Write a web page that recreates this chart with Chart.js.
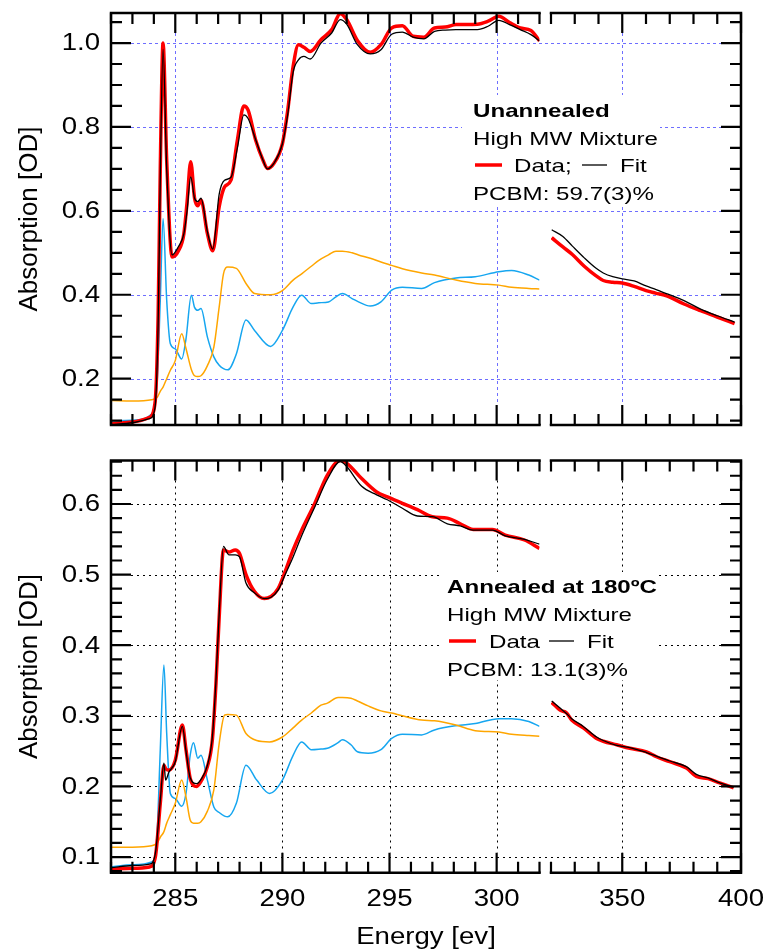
<!DOCTYPE html>
<html>
<head>
<meta charset="utf-8">
<script src="https://cdn.jsdelivr.net/npm/chart.js@4.4.1/dist/chart.umd.min.js"></script>
<style>
html, body { margin: 0; padding: 0; background: #fff; }
#wrap { position: relative; width: 765px; height: 952px; }
#wrap canvas { position: absolute; left: 0; top: 0; }
</style>
</head>
<body>
<div id="wrap">
  <canvas id="topLo" width="765" height="952"></canvas>
  <canvas id="topHi" width="765" height="952"></canvas>
  <canvas id="botLo" width="765" height="952"></canvas>
  <canvas id="botHi" width="765" height="952"></canvas>
</div>
<script>
// ---- Unannealed (top panel), 282-302 eV ----
var unE = [282, 283, 283.8, 284.05, 284.2, 284.3, 284.43, 284.6, 284.85, 285.15, 285.4, 285.55, 285.72, 285.9, 286.05, 286.2, 286.5, 286.75, 287.05, 287.3, 287.6, 287.9, 288.2, 288.4, 288.75, 289.1, 289.3, 289.6, 290.0, 290.25, 290.5, 290.75, 291.0, 291.3, 291.8, 292.3, 292.7, 293.0, 293.5, 294.1, 294.6, 295.1, 295.6, 296.1, 296.6, 297.1, 297.6, 298.1, 299.1, 299.6, 300.1, 300.6, 301.1, 301.6, 302];
var unData = [0.092, 0.097, 0.108, 0.14, 0.35, 0.70, 1.0, 0.72, 0.49, 0.505, 0.545, 0.62, 0.717, 0.63, 0.612, 0.626, 0.546, 0.505, 0.61, 0.657, 0.673, 0.769, 0.85, 0.84, 0.769, 0.72, 0.701, 0.713, 0.76, 0.84, 0.944, 0.996, 0.99, 0.98, 1.008, 1.032, 1.07, 1.056, 1.006, 0.978, 0.996, 1.036, 1.041, 1.016, 1.014, 1.036, 1.038, 1.044, 1.045, 1.052, 1.064, 1.049, 1.036, 1.03, 1.005];
var unFit = [0.09, 0.095, 0.105, 0.13, 0.33, 0.68, 0.985, 0.70, 0.495, 0.515, 0.545, 0.6, 0.681, 0.63, 0.622, 0.63, 0.55, 0.509, 0.64, 0.673, 0.68, 0.75, 0.829, 0.82, 0.77, 0.72, 0.70, 0.713, 0.76, 0.83, 0.93, 0.96, 0.968, 0.962, 1.0, 1.024, 1.056, 1.045, 0.996, 0.974, 0.984, 1.021, 1.026, 1.014, 1.01, 1.028, 1.031, 1.032, 1.032, 1.04, 1.054, 1.044, 1.032, 1.02, 1.005];
var unCompE = [282, 283, 283.9, 284.15, 284.3, 284.43, 284.6, 284.77, 285.0, 285.3, 285.5, 285.75, 285.9, 286.05, 286.2, 286.5, 286.8, 287.05, 287.25, 287.45, 287.85, 288.3, 288.7, 289.45, 290.0, 290.5, 290.9, 291.35, 291.7, 292.15, 292.5, 292.8, 293.25, 293.55, 294.1, 294.6, 295.1, 295.6, 296.5, 297.1, 298.1, 299.0, 300.1, 300.7, 301.5, 302];
var unPolymer = [0.148, 0.147, 0.15, 0.155, 0.17, 0.18, 0.2, 0.22, 0.243, 0.307, 0.272, 0.222, 0.207, 0.205, 0.207, 0.231, 0.275, 0.371, 0.45, 0.466, 0.463, 0.427, 0.403, 0.40, 0.41, 0.435, 0.45, 0.468, 0.482, 0.495, 0.504, 0.504, 0.5, 0.495, 0.487, 0.478, 0.47, 0.462, 0.452, 0.447, 0.435, 0.427, 0.423, 0.418, 0.415, 0.414];
var unPcbm = [0.10, 0.101, 0.116, 0.188, 0.387, 0.582, 0.387, 0.283, 0.271, 0.247, 0.295, 0.399, 0.37, 0.363, 0.367, 0.299, 0.252, 0.232, 0.224, 0.221, 0.259, 0.34, 0.315, 0.277, 0.315, 0.371, 0.399, 0.379, 0.381, 0.383, 0.395, 0.403, 0.391, 0.383, 0.373, 0.383, 0.411, 0.418, 0.415, 0.429, 0.44, 0.443, 0.455, 0.458, 0.447, 0.435];
// ---- Unannealed, 320-400 eV ----
var unHiE = [320.3, 325, 329, 334, 339, 342, 346, 350, 355, 360, 364, 369, 376, 383, 390, 397.3];
var unHiData = [0.536, 0.514, 0.496, 0.468, 0.445, 0.434, 0.43, 0.428, 0.42, 0.41, 0.404, 0.397, 0.378, 0.362, 0.347, 0.331];
var unHiFit = [0.555, 0.539, 0.516, 0.488, 0.463, 0.452, 0.443, 0.438, 0.433, 0.421, 0.413, 0.402, 0.386, 0.366, 0.35, 0.335];

// ---- Annealed at 180 C (bottom panel), 282-302 eV ----
var anE = [282, 283, 283.8, 284.07, 284.3, 284.47, 284.55, 284.7, 285.0, 285.33, 285.5, 285.7, 286.0, 286.2, 286.5, 286.73, 286.9, 287.05, 287.25, 287.5, 287.8, 288.0, 288.3, 288.7, 289.15, 289.47, 289.8, 290.1, 290.5, 290.9, 291.5, 292.1, 292.7, 293.0, 293.7, 294.4, 294.9, 295.6, 296.3, 297.0, 297.7, 298.3, 298.9, 299.8, 300.4, 301.3, 302];
var anData = [0.083, 0.084, 0.086, 0.10, 0.176, 0.23, 0.225, 0.223, 0.237, 0.287, 0.252, 0.211, 0.2, 0.207, 0.228, 0.266, 0.346, 0.44, 0.535, 0.532, 0.535, 0.53, 0.5, 0.476, 0.466, 0.469, 0.48, 0.502, 0.535, 0.563, 0.6, 0.641, 0.662, 0.658, 0.636, 0.617, 0.61, 0.601, 0.592, 0.582, 0.58, 0.572, 0.564, 0.564, 0.556, 0.549, 0.537];
var anFit = [0.085, 0.088, 0.09, 0.105, 0.18, 0.233, 0.209, 0.22, 0.235, 0.285, 0.25, 0.212, 0.204, 0.21, 0.23, 0.27, 0.35, 0.445, 0.54, 0.528, 0.528, 0.525, 0.488, 0.474, 0.466, 0.468, 0.478, 0.498, 0.525, 0.555, 0.595, 0.635, 0.66, 0.653, 0.625, 0.613, 0.606, 0.594, 0.583, 0.582, 0.572, 0.569, 0.563, 0.563, 0.555, 0.55, 0.543];
var anCompE = [282, 283, 283.9, 284.15, 284.3, 284.47, 284.6, 284.77, 285.0, 285.3, 285.5, 285.7, 285.85, 286.05, 286.2, 286.5, 286.8, 287.05, 287.3, 287.45, 287.85, 288.3, 288.8, 289.4, 290.0, 290.5, 290.9, 291.35, 291.8, 292.1, 292.6, 292.8, 293.2, 293.5, 294.0, 294.6, 295.1, 295.6, 296.5, 297.1, 298.1, 299.0, 300.1, 300.7, 301.5, 302];
var anPolymer = [0.114, 0.114, 0.116, 0.12, 0.128, 0.136, 0.148, 0.16, 0.176, 0.209, 0.185, 0.152, 0.148, 0.148, 0.15, 0.165, 0.195, 0.261, 0.301, 0.302, 0.301, 0.275, 0.265, 0.263, 0.27, 0.283, 0.294, 0.304, 0.315, 0.318, 0.326, 0.326, 0.325, 0.321, 0.314, 0.307, 0.304, 0.3, 0.294, 0.293, 0.287, 0.279, 0.277, 0.274, 0.272, 0.271];
var anPcbm = [0.086, 0.089, 0.093, 0.133, 0.252, 0.372, 0.275, 0.19, 0.183, 0.172, 0.19, 0.245, 0.262, 0.24, 0.244, 0.209, 0.171, 0.163, 0.158, 0.157, 0.176, 0.23, 0.209, 0.19, 0.209, 0.244, 0.263, 0.252, 0.253, 0.254, 0.262, 0.266, 0.259, 0.249, 0.247, 0.252, 0.268, 0.274, 0.273, 0.28, 0.286, 0.289, 0.296, 0.296, 0.292, 0.285];
// ---- Annealed, 320-400 eV ----
var anHiE = [320.3, 323.8, 326.6, 328.7, 333.6, 339.2, 342, 347.6, 353.2, 360.2, 364.4, 370, 377, 381.2, 386.1, 391, 396.9];
var anHiData = [0.319, 0.308, 0.304, 0.294, 0.283, 0.268, 0.264, 0.259, 0.254, 0.249, 0.242, 0.235, 0.226, 0.214, 0.211, 0.205, 0.198];
var anHiFit = [0.321, 0.311, 0.303, 0.296, 0.285, 0.27, 0.265, 0.258, 0.255, 0.248, 0.243, 0.236, 0.228, 0.217, 0.212, 0.205, 0.199];

var FONT = '"Liberation Sans", Arial, sans-serif';

function pts(xs, ys) {
  return xs.map(function (x, i) { return { x: x, y: ys[i] }; });
}
function steps(min, max, step) {
  var out = [];
  for (var v = Math.ceil(min / step - 1e-6) * step; v <= max + 1e-6; v += step) out.push(+v.toFixed(6));
  return out;
}
function isMajor(v, major) {
  return Math.abs(v / major - Math.round(v / major)) < 1e-6;
}
// the source figure is stretched sideways, so text gets a horizontal scale
function wideText(ctx, text, x, y, font, align, sx) {
  ctx.save();
  ctx.font = font;
  ctx.translate(x, y);
  ctx.scale(sx || 1.2, 1);
  ctx.textAlign = align || 'left';
  ctx.fillStyle = '#000';
  ctx.fillText(text, 0, 0);
  ctx.restore();
}

var framePlugin = {
  id: 'frame',
  beforeDatasetsDraw: function (chart, args, o) {
    var ctx = chart.ctx, a = chart.chartArea, xs = chart.scales.x, ys = chart.scales.y;
    ctx.save();
    if (o.box) {
      ctx.beginPath();
      ctx.rect(0, 0, chart.width, chart.height);
      ctx.rect(o.box[0], o.box[1], o.box[2] - o.box[0], o.box[3] - o.box[1]);
      ctx.clip('evenodd');
    }
    ctx.strokeStyle = o.gridColor;
    ctx.lineWidth = 1;
    ctx.setLineDash(o.gridDash);
    steps(xs.min, xs.max, o.xMajor).forEach(function (v) {
      var px = Math.round(xs.getPixelForValue(v)) + 0.5;
      if (px < a.left + 4 || px > a.right - 4) return;
      ctx.beginPath(); ctx.moveTo(px, a.top + 20); ctx.lineTo(px, a.bottom - 20); ctx.stroke();
    });
    steps(ys.min, ys.max, o.yMajor).forEach(function (v) {
      var py = Math.round(ys.getPixelForValue(v)) + 0.5;
      var x0 = o.side === 'left' ? a.left + 20 : a.left;
      var x1 = o.side === 'left' ? a.right + 11 : a.right - 20;
      ctx.beginPath(); ctx.moveTo(x0, py); ctx.lineTo(x1, py); ctx.stroke();
    });
    ctx.restore();
  },
  afterDatasetsDraw: function (chart, args, o) {
    var ctx = chart.ctx, a = chart.chartArea, xs = chart.scales.x, ys = chart.scales.y;
    ctx.save();
    ctx.strokeStyle = '#000';
    ctx.lineWidth = 2.5;
    ctx.lineCap = 'square';
    ctx.beginPath();
    ctx.moveTo(a.left, a.top); ctx.lineTo(a.right, a.top);
    ctx.moveTo(a.left, a.bottom); ctx.lineTo(a.right, a.bottom);
    var vx = o.side === 'left' ? a.left : a.right;
    ctx.moveTo(vx, a.top); ctx.lineTo(vx, a.bottom);
    ctx.stroke();

    ctx.lineCap = 'butt';
    ctx.lineWidth = 2.2;
    ctx.beginPath();
    steps(xs.min, xs.max, o.xMinor).forEach(function (v) {
      var px = xs.getPixelForValue(v), len = isMajor(v, o.xMajor) ? 20 : 11;
      ctx.moveTo(px, a.top); ctx.lineTo(px, a.top + len);
      ctx.moveTo(px, a.bottom); ctx.lineTo(px, a.bottom - len);
    });
    steps(ys.min, ys.max, o.yMinor).forEach(function (v) {
      var py = ys.getPixelForValue(v), len = isMajor(v, o.yMajor) ? 20 : 11;
      if (o.side === 'left') { ctx.moveTo(a.left, py); ctx.lineTo(a.left + len, py); }
      else { ctx.moveTo(a.right, py); ctx.lineTo(a.right - len, py); }
    });
    ctx.stroke();

    ctx.textBaseline = 'middle';
    var tickFont = '23px ' + FONT;
    if (o.side === 'left') {
      steps(ys.min, ys.max, o.yMajor).forEach(function (v) {
        wideText(ctx, v.toFixed(1), a.left - 11, ys.getPixelForValue(v) + 1, tickFont, 'right');
      });
      // rotated axis title
      ctx.save();
      ctx.font = '26px ' + FONT;
      ctx.fillStyle = '#000';
      ctx.translate(30, (a.top + a.bottom) / 2);
      ctx.rotate(-Math.PI / 2);
      ctx.textAlign = 'center';
      ctx.fillText(o.yTitle, 0, 0);
      ctx.restore();
    }
    if (o.xLabels) {
      steps(xs.min, xs.max, o.xMajor).forEach(function (v) {
        wideText(ctx, String(v), xs.getPixelForValue(v), a.bottom + 27, tickFont, 'center');
      });
    }
    if (o.xTitle) wideText(ctx, o.xTitle, 426, a.bottom + 65, '23px ' + FONT, 'center');

    if (o.note) {
      var n = o.note, nsx = 1.27;
      ctx.textBaseline = 'alphabetic';
      wideText(ctx, n.title, n.x, n.y, 'bold 19px ' + FONT, 'left', nsx);
      wideText(ctx, n.sample, n.x, n.y + 28, '19px ' + FONT, 'left', nsx);
      var ly = n.y + 55;
      ctx.lineWidth = 3.5; ctx.strokeStyle = '#ff0000';
      ctx.beginPath(); ctx.moveTo(n.x + 2, ly - 7); ctx.lineTo(n.x + 29, ly - 7); ctx.stroke();
      wideText(ctx, n.dataLabel, n.x + n.dataX, ly, '19px ' + FONT, 'left', nsx);
      ctx.lineWidth = 1.3; ctx.strokeStyle = '#000';
      ctx.beginPath(); ctx.moveTo(n.x + n.fitLine, ly - 7); ctx.lineTo(n.x + n.fitLine + 25, ly - 7); ctx.stroke();
      wideText(ctx, 'Fit', n.x + n.fitLine + 38, ly, '19px ' + FONT, 'left', nsx);
      wideText(ctx, n.pcbm, n.x, n.y + 83, '19px ' + FONT, 'left', nsx);
    }
    ctx.restore();
  }
};

function makeChart(id, cfg) {
  var sets = [
    { data: pts(cfg.fitE, cfg.fit), borderColor: '#000000', borderWidth: 1.3 },
    { data: pts(cfg.fitE, cfg.data), borderColor: '#ff0000', borderWidth: 3.5 }
  ];
  if (cfg.compE) {
    sets.push({ data: pts(cfg.compE, cfg.polymer), borderColor: '#ffa600', borderWidth: 1.5 });
    sets.push({ data: pts(cfg.compE, cfg.pcbm), borderColor: '#16a6f0', borderWidth: 1.5 });
  }
  sets.forEach(function (s) {
    s.pointRadius = 0;
    s.fill = false;
    s.cubicInterpolationMode = 'monotone';
  });
  return new Chart(document.getElementById(id), {
    type: 'line',
    data: { datasets: sets },
    options: {
      responsive: false,
      animation: false,
      layout: { padding: cfg.pad },
      scales: {
        x: { type: 'linear', min: cfg.xr[0], max: cfg.xr[1], display: false },
        y: { type: 'linear', min: cfg.yr[0], max: cfg.yr[1], display: false }
      },
      plugins: {
        legend: { display: false },
        tooltip: { enabled: false },
        frame: cfg.frame
      }
    },
    plugins: [framePlugin]
  });
}

var topY = [0.0896, 1.0716], botY = [0.0778, 0.6616];
var loX = [282, 302], hiX = [320, 400];
var topGrid = { gridColor: '#6e6eff', gridDash: [3, 3] };
var botGrid = { gridColor: '#000000', gridDash: [2, 4] };

function frameOpts(base, extra) {
  var o = {};
  [base, extra].forEach(function (src) { for (var k in src) o[k] = src[k]; });
  return o;
}

makeChart('topLo', {
  fitE: unE, fit: unFit, data: unData, compE: unCompE, polymer: unPolymer, pcbm: unPcbm,
  xr: loX, yr: topY,
  pad: { left: 111, top: 13, right: 225.5, bottom: 527 },
  frame: frameOpts(topGrid, { side: 'left', xMinor: 1, xMajor: 5, yMinor: 0.05, yMajor: 0.2,
    box: [462, 95, 660, 207], yTitle: 'Absorption [OD]' })
});
makeChart('topHi', {
  fitE: unHiE, fit: unHiFit, data: unHiData,
  xr: hiX, yr: topY,
  pad: { left: 551, top: 13, right: 24, bottom: 527 },
  frame: frameOpts(topGrid, { side: 'right', xMinor: 10, xMajor: 50, yMinor: 0.05, yMajor: 0.2,
    box: [462, 95, 660, 207],
    note: { x: 473, y: 117, title: 'Unannealed', sample: 'High MW Mixture', dataLabel: 'Data;',
      dataX: 41, fitLine: 109, pcbm: 'PCBM: 59.7(3)%' } })
});
makeChart('botLo', {
  fitE: anE, fit: anFit, data: anData, compE: anCompE, polymer: anPolymer, pcbm: anPcbm,
  xr: loX, yr: botY,
  pad: { left: 111, top: 460.5, right: 225.5, bottom: 79.3 },
  frame: frameOpts(botGrid, { side: 'left', xMinor: 1, xMajor: 5, yMinor: 0.02, yMajor: 0.1,
    box: [440, 572, 657, 680], yTitle: 'Absorption [OD]', xLabels: true, xTitle: 'Energy [ev]' })
});
makeChart('botHi', {
  fitE: anHiE, fit: anHiFit, data: anHiData,
  xr: hiX, yr: botY,
  pad: { left: 551, top: 460.5, right: 24, bottom: 79.3 },
  frame: frameOpts(botGrid, { side: 'right', xMinor: 10, xMajor: 50, yMinor: 0.02, yMajor: 0.1,
    box: [440, 572, 657, 680], xLabels: true,
    note: { x: 447, y: 593, title: 'Annealed at 180\u00baC', sample: 'High MW Mixture', dataLabel: 'Data',
      dataX: 42, fitLine: 102, pcbm: 'PCBM: 13.1(3)%' } })
});
</script>
</body>
</html>
